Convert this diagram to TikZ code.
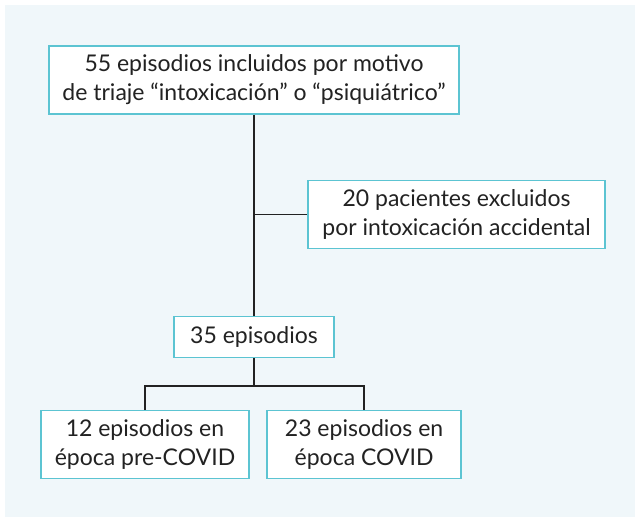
\documentclass[tikz,border=0pt]{standalone}
\usepackage{fontspec}
\setmainfont{Lato}
\usetikzlibrary{positioning}
\definecolor{panelblue}{HTML}{F0F7FA}
\definecolor{boxteal}{HTML}{5CC4D2}
\definecolor{linegray}{HTML}{222222}

\begin{document}
\begin{tikzpicture}[
    x=0.5pt, y=-0.5pt,
    % Define the style for each block
    box/.style={rectangle, draw=boxteal, line width=0.8pt, fill=white, align=center, inner sep=0pt,
        font=\fontsize{11.5}{14.5}\selectfont, text=linegray, minimum height=34pt},
    smallbox/.style={box, minimum height=20.5pt},
    connector/.style={draw=linegray, line width=0.75pt}
]
\useasboundingbox (0,0) rectangle (635,517);
\fill[panelblue] (5,5) rectangle (635,517);

% Place nodes using explicit positioning
\node [box, minimum width=205pt] (incl) at (254,80) {55 episodios incluidos por motivo\\de triaje “intoxicación” o “psiquiátrico”};
\node [box, minimum width=148.5pt] (excl) at (456.5,214.5) {20 pacientes excluidos\\por intoxicación accidental};
\node [smallbox, minimum width=80pt] (total) at (254,337) {35 episodios};
\node [box, minimum width=104pt] (pre) at (145,444.5) {12 episodios en\\época pre-COVID};
\node [box, minimum width=97pt, right=8.25pt of pre] (covid) {23 episodios en\\época COVID};

\coordinate (split) at (254,386);

% Draw connectors
\draw [connector] (incl) -- (total);
\draw [connector] (excl.west) -- (excl.west -| incl.south);
\draw [connector] (total) -- (split);
\draw [connector] (pre.north) |- (split) -| (covid.north);
\end{tikzpicture}
\end{document}
